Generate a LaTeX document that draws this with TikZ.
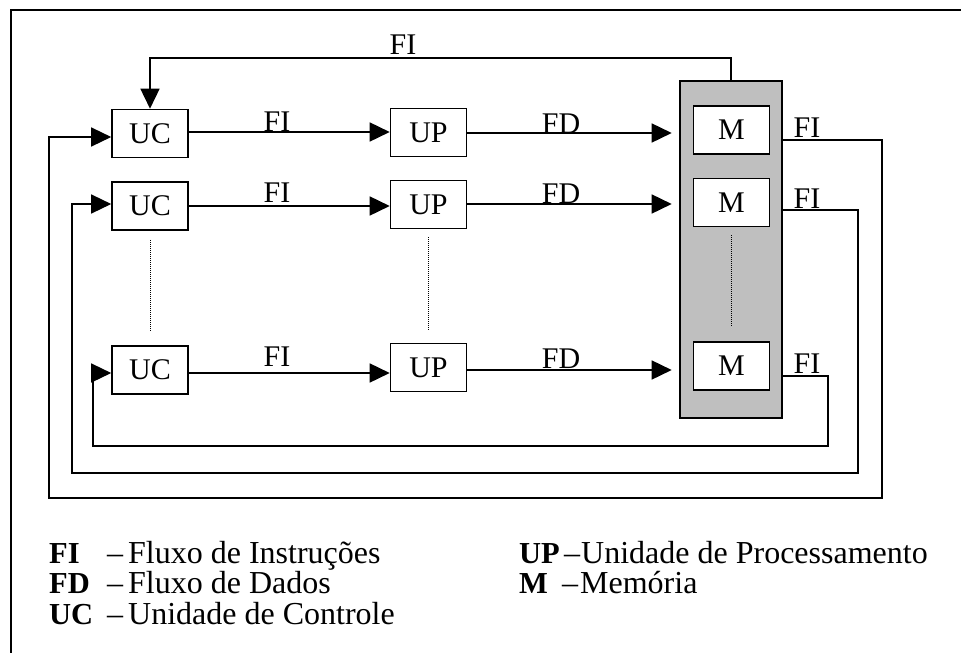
\documentclass[tikz,border=0pt]{standalone}
\usepackage{fontspec}
\setmainfont{Liberation Serif}
\usetikzlibrary{arrows.meta}
\begin{document}
\begin{tikzpicture}[x=1pt,y=-1pt,
  every node/.style={font=\fontsize{30}{36}\selectfont},
  line/.style={line width=1.6pt},
  arr/.style={line width=1.6pt,-{Triangle[length=20pt,width=19pt]}},
  ret/.style={line width=1.4pt,-{Triangle[length=20pt,width=19pt]}},
  unitbox/.style={draw,line width=1.6pt,fill=white,minimum width=76pt,minimum height=48pt,inner sep=0pt},
  membank/.style={draw,line width=1.6pt,fill=gray!50,minimum width=102pt,minimum height=337pt,inner sep=0pt},
  dotline/.style={line width=1pt,dash pattern=on 1pt off 1pt},
  lbl/.style={inner sep=0pt,anchor=base},
  key/.style={inner sep=0pt,anchor=base west,font=\fontsize{30.5}{36}\selectfont\bfseries},
  txt/.style={inner sep=0pt,anchor=base west,font=\fontsize{32}{38}\selectfont}]
\useasboundingbox (0,0) rectangle (961,653);
% frame
\draw[line] (11,653) -- (11,10) -- (961,10);
% memory bank
\node[membank] (mem) at (731,249.5) {};
% units
\node[unitbox] (UC1) at (150,133.5) {UC};
\node[unitbox] (UP1) at (428.5,132.5) {UP};
\node[unitbox] (M1) at (731.5,130) {M};
\node[unitbox] (UC2) at (150,206) {UC};
\node[unitbox] (UP2) at (428.5,204.5) {UP};
\node[unitbox] (M2) at (731.5,202.5) {M};
\node[unitbox] (UC3) at (150,370) {UC};
\node[unitbox] (UP3) at (428.5,367.5) {UP};
\node[unitbox] (M3) at (731.5,366) {M};
% UC -> UP
\draw[arr] (UC1.east |- 0,132) -- (UP1.west |- 0,132);
\draw[arr] (UC2.east |- 0,206) -- (UP2.west |- 0,206);
\draw[arr] (UC3.east |- 0,373) -- (UP3.west |- 0,373);
% UP -> M
\draw[arr,shorten >=21pt] (UP1.east |- 0,133) -- (M1.west |- 0,133);
\draw[arr,shorten >=21pt] (UP2.east |- 0,204) -- (M2.west |- 0,204);
\draw[arr,shorten >=21pt] (UP3.east |- 0,370) -- (M3.west |- 0,370);
% top FI
\draw[arr] (mem.north) -- (mem.north |- 0,58) -| (UC1.north);
\node[lbl] (fitop) at (403,54) {FI};
% return loops
\draw[ret] (mem.east |- 0,140) -- (882,140) -- (882,498) -- (49,498) -- (49,137) -- (UC1.west |- 0,137);
\draw[ret] (mem.east |- 0,210) -- (858,210) -- (858,473) -- (72,473) -- (72,204) -- (UC2.west |- 0,204);
\draw[ret] (mem.east |- 0,376) -- (828,376) -- (828,446) -- (93,446) -- (93,373) -- (UC3.west |- 0,373);
% dotted continuation
\draw[dotline,shorten <=9pt,shorten >=14pt] (UC2.south) -- (UC3.north);
\draw[dotline,shorten <=8pt,shorten >=12pt] (UP2.south) -- (UP3.north);
\draw[dotline,shorten <=8pt,shorten >=14pt] (M2.south) -- (M3.north);
% labels
\node[lbl] (fi1) at (277,131) {FI};
\node[lbl] (fi2) at (277,202) {FI};
\node[lbl] (fi3) at (277,366) {FI};
\node[lbl] (fd1) at (561,133) {FD};
\node[lbl] (fd2) at (561,203) {FD};
\node[lbl] (fd3) at (561,368) {FD};
\node[lbl] (fr1) at (807,137) {FI};
\node[lbl] (fr2) at (807,208) {FI};
\node[lbl] (fr3) at (807,373) {FI};
% legend
\node[key] (kFI) at (49,563) {FI};
\node[txt] (tFI) at (107,563) {–\kern5pt Fluxo de Instruções};
\node[key] (kFD) at (49,593) {FD};
\node[txt] (tFD) at (107,593) {–\kern5pt Fluxo de Dados};
\node[key] (kUC) at (49,624) {UC};
\node[txt] (tUC) at (107,624) {–\kern5pt Unidade de Controle};
\node[key] (kUP) at (519,563) {UP};
\node[txt] (tUP) at (564,563) {–\kern1pt Unidade de Processamento};
\node[key] (kM) at (519,593) {M};
\node[txt] (tM) at (562,593) {–\kern2pt Memória};
\end{tikzpicture}
\end{document}
